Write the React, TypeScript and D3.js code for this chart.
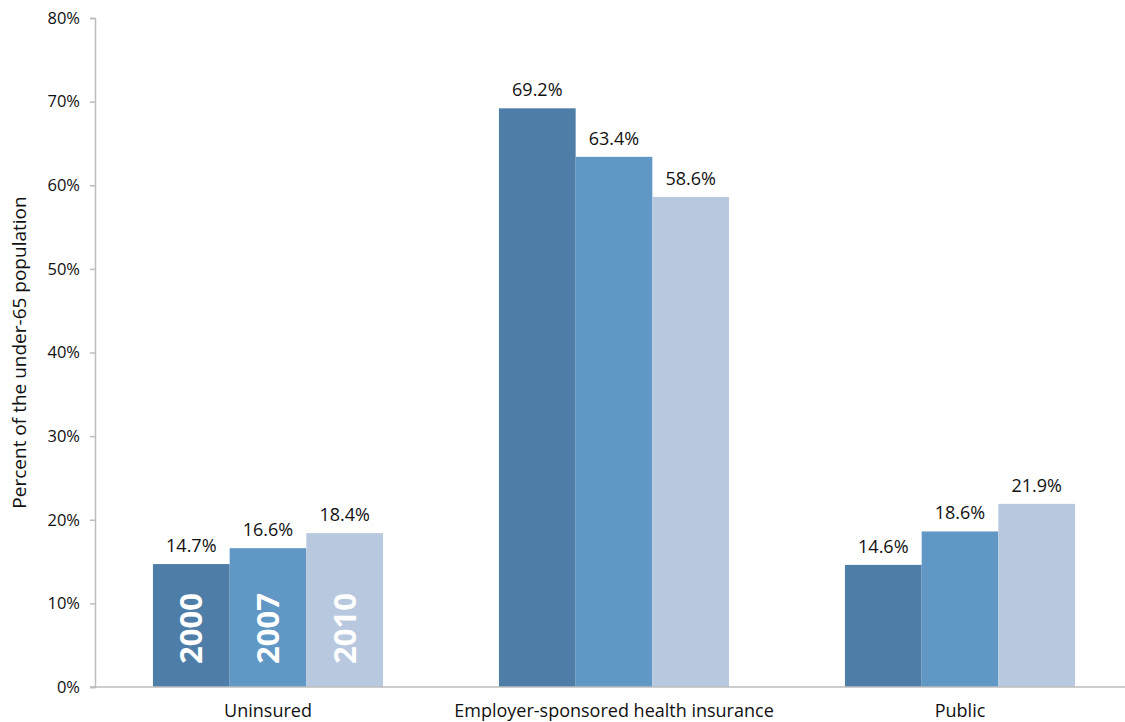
import * as d3 from "d3";
import React, { useEffect, useRef } from "react";

const categories = ["Uninsured", "Employer-sponsored health insurance", "Public"];
const years = ["2000", "2007", "2010"];
const values2000 = [14.7, 69.2, 14.6];
const values2007 = [16.6, 63.4, 18.6];
const values2010 = [18.4, 58.6, 21.9];
const yTicks = [0, 10, 20, 30, 40, 50, 60, 70, 80];
const colors = ["#4e7ea8", "#6097c5", "#b8c8de"];

export default function App() {
  const ref = useRef<SVGSVGElement | null>(null);

  useEffect(() => {
    const width = 1125;
    const height = 722;
    const margin = { top: 18, left: 95, bottom: 35 };
    const font = "'Open Sans', 'Noto Sans', sans-serif";

    const svg = d3.select(ref.current);
    svg.selectAll("*").remove();

    const series = [values2000, values2007, values2010];
    const data = categories.map((c, i) => ({
      category: c,
      values: years.map((y, j) => ({ year: y, value: series[j][i] })),
    }));

    const y = d3
      .scaleLinear()
      .domain([0, 80])
      .range([height - margin.bottom, margin.top]);

    const x0 = d3
      .scaleBand()
      .domain(categories)
      .range([margin.left, 1133])
      .paddingInner(0.335)
      .paddingOuter(0.1675);

    const x1 = d3.scaleBand().domain(years).range([0, x0.bandwidth()]);

    // y axis
    const yAxis = svg
      .append("g")
      .attr("transform", `translate(${margin.left},0)`)
      .call(
        d3
          .axisLeft(y)
          .tickValues(yTicks)
          .tickSize(5)
          .tickPadding(10)
          .tickFormat((d: any) => `${d}%`)
      );
    yAxis.selectAll("path, line").attr("stroke", "#bdbdbd").attr("stroke-width", 1.5);
    yAxis
      .selectAll("text")
      .attr("font-family", font)
      .attr("font-size", 16.5)
      .attr("fill", "#111");

    // bars
    const groups = svg
      .selectAll("g.group")
      .data(data)
      .join("g")
      .attr("class", "group")
      .attr("transform", (d) => `translate(${x0(d.category)},0)`);

    groups
      .selectAll("rect")
      .data((d) => d.values)
      .join("rect")
      .attr("x", (d) => x1(d.year) as number)
      .attr("width", x1.bandwidth())
      .attr("y", (d) => y(d.value))
      .attr("height", (d) => y(0) - y(d.value))
      .attr("fill", (d, i) => colors[i]);

    groups
      .selectAll("text.val")
      .data((d) => d.values)
      .join("text")
      .attr("class", "val")
      .attr("x", (d) => (x1(d.year) as number) + x1.bandwidth() / 2)
      .attr("y", (d) => y(d.value) - 12)
      .attr("text-anchor", "middle")
      .attr("font-family", font)
      .attr("font-size", 18)
      .attr("fill", "#111")
      .text((d) => `${d.value.toFixed(1)}%`);

    // year labels inside first group
    groups
      .filter((d, i) => i === 0)
      .selectAll("text.year")
      .data((d) => d.values)
      .join("text")
      .attr("class", "year")
      .attr(
        "transform",
        (d) =>
          `translate(${(x1(d.year) as number) + x1.bandwidth() / 2 + 11},${y(0) - 23}) rotate(-90)`
      )
      .attr("font-family", font)
      .attr("font-weight", 700)
      .attr("font-size", 31)
      .attr("fill", "#fff")
      .text((d) => d.year);

    // x axis line
    svg
      .append("line")
      .attr("x1", margin.left - 5)
      .attr("x2", width)
      .attr("y1", y(0))
      .attr("y2", y(0))
      .attr("stroke", "#bdbdbd")
      .attr("stroke-width", 1.5);

    svg
      .selectAll("text.cat")
      .data(categories)
      .join("text")
      .attr("class", "cat")
      .attr("x", (d) => (x0(d) as number) + x0.bandwidth() / 2)
      .attr("y", 717)
      .attr("text-anchor", "middle")
      .attr("font-family", font)
      .attr("font-size", 18)
      .attr("fill", "#111")
      .text((d) => d);

    svg
      .append("text")
      .attr("transform", `translate(26,${(y(0) + y(80)) / 2}) rotate(-90)`)
      .attr("text-anchor", "middle")
      .attr("font-family", font)
      .attr("font-size", 19)
      .attr("fill", "#111")
      .text("Percent of the under-65 population");
  }, []);

  return (
    <svg
      ref={ref}
      width={1125}
      height={722}
      style={{ position: "absolute", left: 0, top: 0, background: "#fff" }}
    />
  );
}
